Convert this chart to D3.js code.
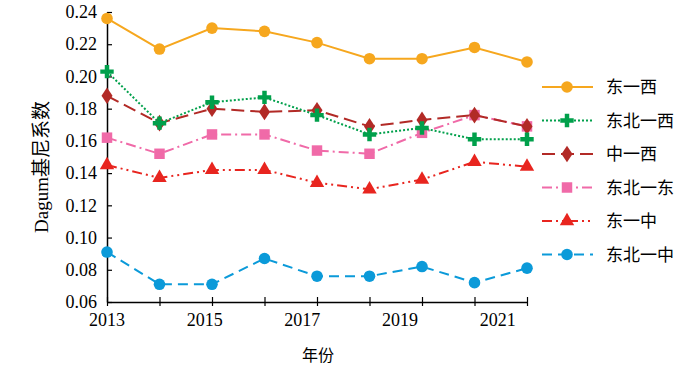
<!DOCTYPE html>
<html>
<head>
<meta charset="utf-8">
<script src="https://cdn.jsdelivr.net/npm/d3@7"></script>
<style>
  body { margin: 0; background: #fff; }
  svg { display: block; }
</style>
</head>
<body>
<div id="chart"></div>
<script>
// 数据
var years = [2013, 2014, 2015, 2016, 2017, 2018, 2019, 2020, 2021];
var yearLabels = [2013, 2015, 2017, 2019, 2021];
var yTicks = [0.06, 0.08, 0.10, 0.12, 0.14, 0.16, 0.18, 0.20, 0.22, 0.24];
var seriesNames = ["东一西", "东北一西", "中一西", "东北一东", "东一中", "东北一中"];
var eastWest      = [0.236, 0.217, 0.230, 0.228, 0.221, 0.211, 0.211, 0.218, 0.209];
var northeastWest = [0.203, 0.171, 0.184, 0.187, 0.176, 0.164, 0.168, 0.161, 0.161];
var middleWest    = [0.188, 0.171, 0.180, 0.178, 0.179, 0.169, 0.173, 0.176, 0.169];
var northeastEast = [0.162, 0.152, 0.164, 0.164, 0.154, 0.152, 0.165, 0.176, 0.169];
var eastMiddle    = [0.145, 0.137, 0.142, 0.142, 0.134, 0.130, 0.136, 0.147, 0.144];
var northeastMid  = [0.091, 0.071, 0.071, 0.087, 0.076, 0.076, 0.082, 0.072, 0.081];

var allValues = [eastWest, northeastWest, middleWest, northeastEast, eastMiddle, northeastMid];

var styles = [
  {color: "#f6a71e", dash: null,            shape: "circle"},
  {color: "#00a04b", dash: "2,2",           shape: "cross"},
  {color: "#b22a26", dash: "13,6",          shape: "diamond"},
  {color: "#f06aa8", dash: "10,4,2,4",      shape: "square"},
  {color: "#e8251f", dash: "10,4,2,4,2,4",  shape: "triangle"},
  {color: "#0b9ad9", dash: "10,6",          shape: "circle2"}
];

var W = 700, H = 367;
var pLeft = 107, pRight = 527, pTop = 12, pBottom = 302;

var svg = d3.select("#chart").append("svg")
  .attr("width", W).attr("height", H);

var x = d3.scalePoint().domain(years).range([pLeft, pRight]);
// 年份标注所用的数值轴 (与数据点位置略有偏移)
var xLab = d3.scaleLinear().domain([2013, 2021.6]).range([pLeft, pRight]);
var y = d3.scaleLinear().domain([0.06, 0.24]).range([pBottom, pTop]);

var serif = "'Liberation Serif', 'Times New Roman', serif";
var cjk = "'Noto Sans CJK SC', sans-serif";

// y 轴
var yAxis = svg.append("g")
  .attr("transform", "translate(" + pLeft + ",0)")
  .call(d3.axisLeft(y).tickValues(yTicks).tickFormat(d3.format(".2f")).tickSizeInner(-5).tickSizeOuter(0).tickPadding(10));
yAxis.select(".domain").attr("stroke", "#000").attr("stroke-width", 1.5);
yAxis.selectAll(".tick line").attr("stroke", "#000").attr("stroke-width", 1.2);
yAxis.selectAll("text").style("font-family", serif).style("font-size", "18px").attr("fill", "#000");

// x 轴
var xAxis = svg.append("g")
  .attr("transform", "translate(0," + pBottom + ")")
  .call(d3.axisBottom(x).tickSizeInner(4).tickSizeOuter(0).tickFormat(""));
xAxis.select(".domain").attr("stroke", "#000").attr("stroke-width", 1.5);
xAxis.selectAll(".tick line").attr("stroke", "#000").attr("stroke-width", 1.2).attr("y1", -5);

svg.append("g").selectAll("text")
  .data(yearLabels)
  .enter().append("text")
  .attr("x", function(d){ return xLab(d); })
  .attr("y", pBottom + 24)
  .attr("text-anchor", "middle")
  .style("font-family", serif)
  .style("font-size", "18px")
  .text(function(d){ return d; });

// 轴标题
svg.append("text")
  .attr("transform", "translate(48," + 167 + ") rotate(-90)")
  .attr("text-anchor", "middle")
  .style("font-family", serif)
  .style("font-size", "19px")
  .html("Dagum<tspan style=\"font-family:'Noto Sans CJK SC'\">基尼系数</tspan>");

svg.append("text")
  .attr("x", 318).attr("y", 361)
  .attr("text-anchor", "middle")
  .style("font-family", cjk)
  .style("font-size", "16px")
  .text("年份");

function drawMarker(g, shape, color, cx, cy) {
  if (shape === "circle" || shape === "circle2") {
    g.append("circle").attr("cx", cx).attr("cy", cy).attr("r", 5.8).attr("fill", color);
  } else {
    var sym = {
      cross: d3.symbolCross,
      diamond: d3.symbolDiamond,
      square: d3.symbolSquare,
      triangle: d3.symbolTriangle
    }[shape];
    var size = {cross: 100, diamond: 80, square: 110, triangle: 90}[shape];
    g.append("path")
      .attr("d", d3.symbol().type(sym).size(size)())
      .attr("transform", "translate(" + cx + "," + cy + ")" + (shape === "diamond" ? " scale(1.15,1)" : ""))
      .attr("fill", color);
  }
}

var line = d3.line()
  .x(function(d, i){ return x(years[i]); })
  .y(function(d){ return y(d); });

// 绘制折线 (从下往上)
for (var s = allValues.length - 1; s >= 0; s--) {
  var g = svg.append("g");
  g.append("path")
    .attr("d", line(allValues[s]))
    .attr("fill", "none")
    .attr("stroke", styles[s].color)
    .attr("stroke-width", 2)
    .attr("stroke-dasharray", styles[s].dash);
  allValues[s].forEach(function(v, i){
    drawMarker(g, styles[s].shape, styles[s].color, x(years[i]), y(v));
  });
}

// 图例
var legend = svg.append("g");
seriesNames.forEach(function(name, i){
  var ly = 87 + i * 33.5;
  var lg = legend.append("g");
  lg.append("line")
    .attr("x1", 542).attr("x2", 593)
    .attr("y1", ly).attr("y2", ly)
    .attr("stroke", styles[i].color)
    .attr("stroke-width", 2)
    .attr("stroke-dasharray", styles[i].dash);
  drawMarker(lg, styles[i].shape, styles[i].color, 567, ly);
  lg.append("text")
    .attr("x", 606).attr("y", ly + 6)
    .style("font-family", cjk)
    .style("font-size", "17px")
    .text(name);
});
</script>
</body>
</html>
